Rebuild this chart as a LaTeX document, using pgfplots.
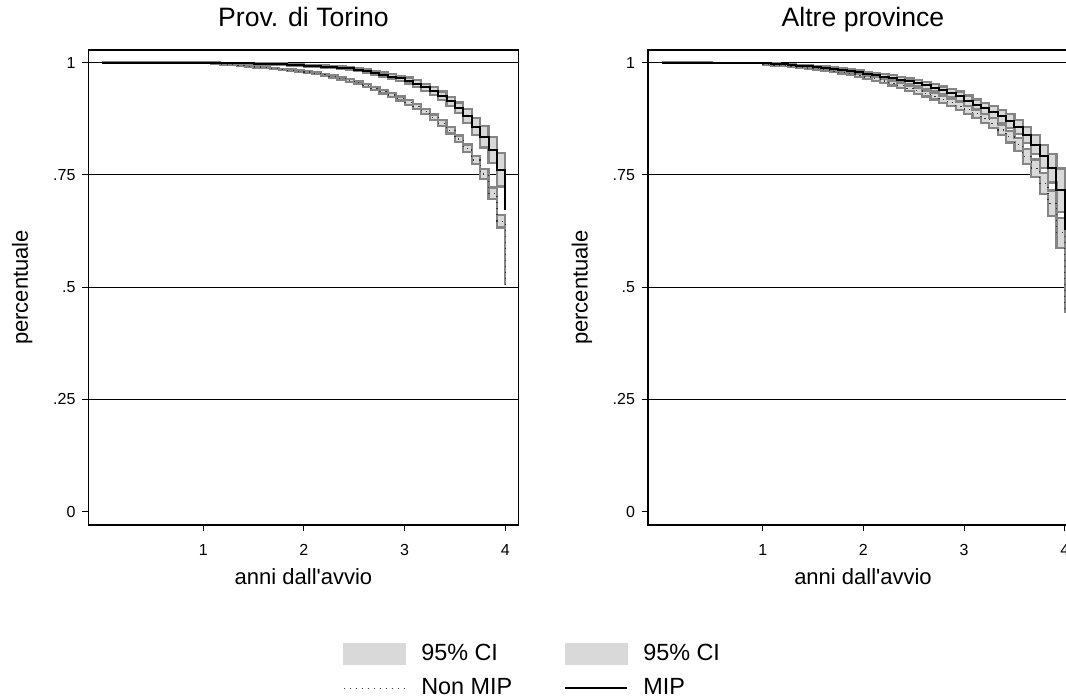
\documentclass[border=0pt]{standalone}
\usepackage{fontspec}
\setmainfont{Liberation Sans}
\usepackage{pgfplots}
\pgfplotsset{compat=1.18}
\usepgfplotslibrary{fillbetween}
\usepackage{pgfplotstable}

\definecolor{cifill}{HTML}{D9D9D9}
\definecolor{ciedge}{HTML}{858585}

% Prov. di Torino, MIP
\pgfplotstableread{
t s lo hi
0 1 1 1
0.5 0.9998 0.9996 1.0000
1.0 0.9995 0.9990 1.0000
1.0833 0.9993 0.9986 1.0000
1.1667 0.9990 0.9982 0.9998
1.25 0.9988 0.9979 0.9997
1.3333 0.9985 0.9975 0.9995
1.4167 0.9980 0.9970 0.9990
1.5 0.9977 0.9965 0.9989
1.5833 0.9970 0.9956 0.9984
1.6667 0.9965 0.9949 0.9981
1.75 0.9960 0.9942 0.9978
1.8333 0.9950 0.9930 0.9970
1.9167 0.9940 0.9920 0.9960
2.0 0.9930 0.9908 0.9952
2.0833 0.9920 0.9896 0.9944
2.1667 0.9910 0.9884 0.9936
2.25 0.9900 0.9872 0.9928
2.3333 0.9890 0.9860 0.9920
2.4167 0.9870 0.9837 0.9903
2.5 0.9840 0.9804 0.9876
2.5833 0.9810 0.9770 0.9850
2.6667 0.9770 0.9725 0.9815
2.75 0.9730 0.9680 0.9780
2.8333 0.9690 0.9635 0.9745
2.9167 0.9650 0.9590 0.9710
3.0 0.9600 0.9532 0.9668
3.0833 0.9530 0.9455 0.9605
3.1667 0.9450 0.9370 0.9530
3.25 0.9360 0.9270 0.9450
3.3333 0.9260 0.9165 0.9355
3.4167 0.9140 0.9040 0.9240
3.5 0.8990 0.8870 0.9110
3.5833 0.8810 0.8660 0.8960
3.6667 0.8570 0.8380 0.8760
3.75 0.8350 0.8110 0.8590
3.8333 0.8060 0.7770 0.8350
3.9167 0.7610 0.7240 0.7980
4.0 0.672 0.672 0.672
}\tomip

% Prov. di Torino, Non MIP
\pgfplotstableread{
t s lo hi
0 1 1 1
0.5 0.9997 0.9995 0.9999
1.0 0.9990 0.9985 0.9995
1.0833 0.9980 0.9974 0.9986
1.1667 0.9960 0.9952 0.9968
1.25 0.9950 0.9941 0.9959
1.3333 0.9930 0.9920 0.9940
1.4167 0.9920 0.9909 0.9931
1.5 0.9900 0.9888 0.9912
1.5833 0.9890 0.9877 0.9903
1.6667 0.9870 0.9856 0.9884
1.75 0.9850 0.9835 0.9865
1.8333 0.9830 0.9814 0.9846
1.9167 0.9810 0.9793 0.9827
2.0 0.9790 0.9772 0.9808
2.0833 0.9760 0.9740 0.9780
2.1667 0.9730 0.9708 0.9752
2.25 0.9690 0.9666 0.9714
2.3333 0.9650 0.9624 0.9676
2.4167 0.9600 0.9572 0.9628
2.5 0.9550 0.9520 0.9580
2.5833 0.9490 0.9457 0.9523
2.6667 0.9420 0.9384 0.9456
2.75 0.9350 0.9310 0.9390
2.8333 0.9280 0.9237 0.9323
2.9167 0.9200 0.9154 0.9246
3.0 0.9110 0.9060 0.9160
3.0833 0.9020 0.8966 0.9074
3.1667 0.8910 0.8852 0.8968
3.25 0.8780 0.8718 0.8842
3.3333 0.8650 0.8584 0.8716
3.4167 0.8490 0.8420 0.8560
3.5 0.8300 0.8224 0.8376
3.5833 0.8090 0.8006 0.8174
3.6667 0.7830 0.7735 0.7925
3.75 0.7520 0.7410 0.7630
3.8333 0.7090 0.6960 0.7220
3.9167 0.6470 0.6330 0.6610
4.0 0.505 0.505 0.505
}\tonon

% Altre province, MIP
\pgfplotstableread{
t s lo hi
0 1 1 1
0.5 0.9995 0.9991 0.9999
1.0 0.9980 0.9970 0.9990
1.0833 0.9970 0.9957 0.9983
1.1667 0.9960 0.9944 0.9976
1.25 0.9950 0.9931 0.9969
1.3333 0.9930 0.9908 0.9952
1.4167 0.9920 0.9895 0.9945
1.5 0.9900 0.9872 0.9928
1.5833 0.9880 0.9849 0.9911
1.6667 0.9860 0.9826 0.9894
1.75 0.9840 0.9803 0.9877
1.8333 0.9810 0.9770 0.9850
1.9167 0.9780 0.9737 0.9823
2.0 0.9750 0.9704 0.9796
2.0833 0.9720 0.9670 0.9770
2.1667 0.9690 0.9636 0.9744
2.25 0.9660 0.9602 0.9718
2.3333 0.9620 0.9558 0.9682
2.4167 0.9580 0.9514 0.9646
2.5 0.9540 0.9470 0.9610
2.5833 0.9490 0.9415 0.9565
2.6667 0.9440 0.9360 0.9520
2.75 0.9380 0.9293 0.9467
2.8333 0.9320 0.9225 0.9415
2.9167 0.9250 0.9145 0.9355
3.0 0.9150 0.9035 0.9265
3.0833 0.9060 0.8940 0.9180
3.1667 0.8980 0.8855 0.9105
3.25 0.8900 0.8770 0.9030
3.3333 0.8800 0.8660 0.8940
3.4167 0.8700 0.8550 0.8850
3.5 0.8570 0.8410 0.8730
3.5833 0.8390 0.8210 0.8570
3.6667 0.8170 0.7960 0.8380
3.75 0.7910 0.7660 0.8160
3.8333 0.7650 0.7330 0.7970
3.9167 0.7160 0.6680 0.7640
4.0 0.627 0.627 0.627
}\almip

% Altre province, Non MIP
\pgfplotstableread{
t s lo hi
0 1 1 1
0.5 0.9990 0.9986 0.9994
1.0 0.9950 0.9940 0.9960
1.0833 0.9940 0.9928 0.9952
1.1667 0.9930 0.9916 0.9944
1.25 0.9920 0.9904 0.9936
1.3333 0.9900 0.9882 0.9918
1.4167 0.9880 0.9860 0.9900
1.5 0.9860 0.9838 0.9882
1.5833 0.9840 0.9815 0.9865
1.6667 0.9810 0.9782 0.9838
1.75 0.9780 0.9750 0.9810
1.8333 0.9750 0.9717 0.9783
1.9167 0.9720 0.9684 0.9756
2.0 0.9680 0.9640 0.9720
2.0833 0.9640 0.9597 0.9683
2.1667 0.9590 0.9544 0.9636
2.25 0.9540 0.9490 0.9590
2.3333 0.9490 0.9436 0.9544
2.4167 0.9430 0.9372 0.9488
2.5 0.9370 0.9308 0.9432
2.5833 0.9310 0.9244 0.9376
2.6667 0.9250 0.9180 0.9320
2.75 0.9180 0.9105 0.9255
2.8333 0.9110 0.9030 0.9190
2.9167 0.9030 0.8945 0.9115
3.0 0.8950 0.8860 0.9040
3.0833 0.8860 0.8765 0.8955
3.1667 0.8760 0.8660 0.8860
3.25 0.8650 0.8540 0.8760
3.3333 0.8500 0.8380 0.8620
3.4167 0.8350 0.8220 0.8480
3.5 0.8170 0.8025 0.8315
3.5833 0.7910 0.7750 0.8070
3.6667 0.7650 0.7460 0.7840
3.75 0.7310 0.7080 0.7540
3.8333 0.6870 0.6590 0.7150
3.9167 0.6210 0.5880 0.6540
4.0 0.442 0.442 0.442
}\alnon

\pgfplotsset{
  km/.style={
    scale only axis, width=215pt, height=237.5pt,
    xmin=-0.139, xmax=4.131, ymin=-0.0296, ymax=1.028,
    xtick={1,2,3,4},
    ytick={0,0.25,0.5,0.75,1}, yticklabels={0,.25,.5,.75,1},
    extra y ticks={0.25,0.5,0.75,1}, extra y tick labels={},
    extra y tick style={grid=major, major tick length=0pt},
    grid style={black, line width=0.5pt},
    tick align=outside, tick pos=left, major tick length=3pt,
    axis line style={black, line width=0.7pt},
    tick style={black, line width=0.5pt},
    ticklabel style={font=\fontsize{8}{9.5}\selectfont},
    /pgf/number format/assume math mode=true,
    xticklabel style={yshift=-3pt},
    label style={font=\fontsize{11}{13}\selectfont},
    xlabel={anni dall\textquotesingle avvio}, ylabel={percentuale},
    xlabel style={at={(axis description cs:0.5,-0.1245)}, anchor=base},
    ylabel style={at={(axis description cs:-0.1407,0.5)}, anchor=base},
    title style={at={(axis description cs:0.5,1.0232)}, anchor=base,
      font=\fontsize{13.3}{16}\selectfont},
  },
  cibox/.style={const plot, ciedge, line width=1.1pt, forget plot},
  cihide/.style={const plot, draw=none, forget plot},
  mipline/.style={const plot, black, line width=1pt, forget plot},
  nonline/.style={const plot, black!80, line width=0.6pt,
    dash pattern=on 0.6pt off 2.4pt, forget plot},
}

\begin{document}
\begin{tikzpicture}
\begin{axis}[km, at={(0pt,0pt)}, anchor=south west, title={Prov. di Torino},
  legend columns=2, legend cell align=left,
  legend style={at={(axis description cs:0.592,-0.248)}, anchor=north west,
    draw=none, fill=none, inner sep=0pt, outer sep=0pt,
    font=\fontsize{11.7}{14}\selectfont, row sep=7pt,
    nodes={inner sep=0pt},
    /tikz/column 1/.style={column sep=7.5pt},
    /tikz/column 2/.style={column sep=26pt},
    /tikz/column 3/.style={column sep=7.5pt}},
]
\addplot[cihide, name path=tnu] table[x=t, y=hi] {\tonon};
\addplot[cihide, name path=tnl] table[x=t, y=lo] {\tonon};
\addplot[fill=cifill, draw=none, forget plot] fill between[of=tnu and tnl];
\addplot[cibox] table[x=t, y=hi] {\tonon};
\addplot[cibox] table[x=t, y=lo] {\tonon};
\addplot[cihide, name path=tmu] table[x=t, y=hi] {\tomip};
\addplot[cihide, name path=tml] table[x=t, y=lo] {\tomip};
\addplot[fill=cifill, draw=none, forget plot] fill between[of=tmu and tml];
\addplot[cibox] table[x=t, y=hi] {\tomip};
\addplot[cibox] table[x=t, y=lo] {\tomip};
\addplot[nonline] table[x=t, y=s] {\tonon};
\addplot[mipline] table[x=t, y=s] {\tomip};

\addlegendimage{legend image code/.code={\fill[cifill] (0pt,-5.25pt) rectangle (31pt,5.25pt);}}
\addlegendentry{95\% CI}
\addlegendimage{legend image code/.code={\fill[cifill] (0pt,-5.25pt) rectangle (31pt,5.25pt);}}
\addlegendentry{95\% CI}
\addlegendimage{legend image code/.code={\draw[black!80, line width=0.6pt, dash pattern=on 0.6pt off 2.4pt] (0pt,0pt) -- (31pt,0pt);}}
\addlegendentry{Non MIP}
\addlegendimage{legend image code/.code={\draw[black, line width=1pt] (0pt,0pt) -- (31pt,0pt);}}
\addlegendentry{MIP}
\end{axis}

\begin{axis}[km, at={(279.75pt,0pt)}, anchor=south west, title={Altre province}]
\addplot[cihide, name path=anu] table[x=t, y=hi] {\alnon};
\addplot[cihide, name path=anl] table[x=t, y=lo] {\alnon};
\addplot[fill=cifill, draw=none, forget plot] fill between[of=anu and anl];
\addplot[cibox] table[x=t, y=hi] {\alnon};
\addplot[cibox] table[x=t, y=lo] {\alnon};
\addplot[cihide, name path=amu] table[x=t, y=hi] {\almip};
\addplot[cihide, name path=aml] table[x=t, y=lo] {\almip};
\addplot[fill=cifill, draw=none, forget plot] fill between[of=amu and aml];
\addplot[cibox] table[x=t, y=hi] {\almip};
\addplot[cibox] table[x=t, y=lo] {\almip};
\addplot[nonline] table[x=t, y=s] {\alnon};
\addplot[mipline] table[x=t, y=s] {\almip};
\end{axis}

\pgfresetboundingbox
\useasboundingbox (-44.25pt,-86.5pt) rectangle (488.75pt,262.5pt);
\end{tikzpicture}
\end{document}
